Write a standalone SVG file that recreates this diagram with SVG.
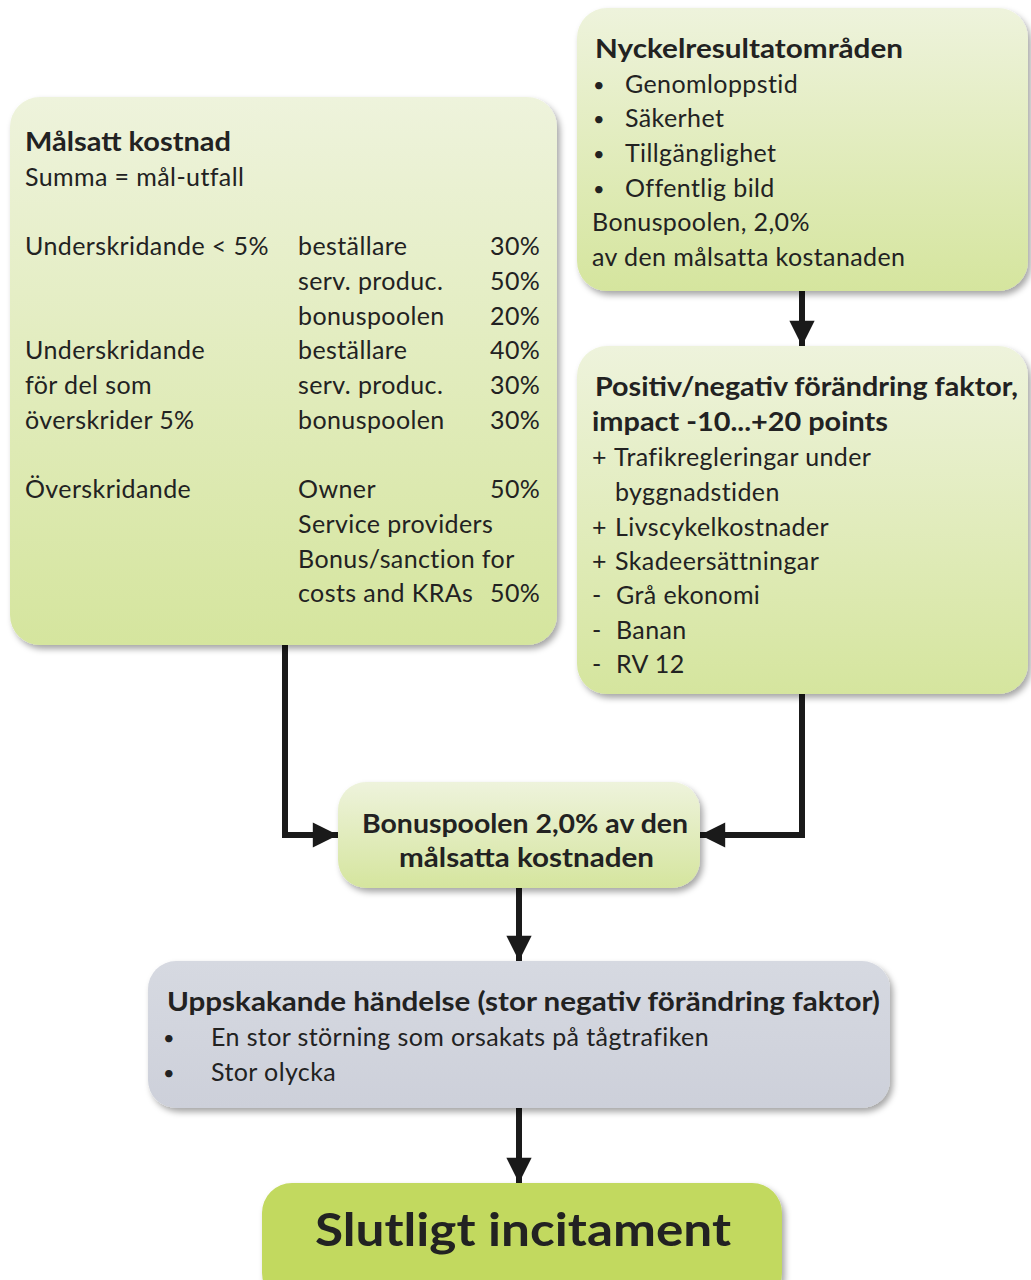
<svg xmlns="http://www.w3.org/2000/svg" width="1031" height="1280" viewBox="0 0 1031 1280">
<defs>
<linearGradient id="gg" x1="0" y1="0" x2="0" y2="1">
<stop offset="0" stop-color="#eef3dc"/>
<stop offset="1" stop-color="#d5e59e"/>
</linearGradient>
<linearGradient id="gr" x1="0" y1="0" x2="0" y2="1">
<stop offset="0" stop-color="#d6d9e1"/>
<stop offset="1" stop-color="#cdd0da"/>
</linearGradient>
<filter id="sh" x="-10%" y="-10%" width="130%" height="130%">
<feDropShadow dx="3" dy="4" stdDeviation="3" flood-color="#000" flood-opacity="0.35"/>
</filter>
<marker id="ah" viewBox="0 0 10 10" refX="10" refY="5" markerWidth="4.6" markerHeight="4.2" orient="auto" markerUnits="strokeWidth">
<path d="M0,0 L10,5 L0,10 Z" fill="#1a1a1a"/>
</marker>
</defs>
<style>
text{font-family:"Lato","Open Sans","Liberation Sans",sans-serif;fill:#222;font-size:25px;letter-spacing:0.4px}
.b{font-weight:bold;font-size:26px;letter-spacing:0}
.box{fill:url(#gg);filter:url(#sh)}
.c{fill:none;stroke:#1a1a1a;stroke-width:6}
.d{font-size:20px}
</style>
<rect width="1031" height="1280" fill="#fff"/>
<g id="connectors">
<path class="c" d="M285,645 V835 H338" marker-end="url(#ah)"/>
<path class="c" d="M802,694 V835 H700" marker-end="url(#ah)"/>
<path class="c" d="M802,291 V346" marker-end="url(#ah)"/>
<path class="c" d="M519,888 V961" marker-end="url(#ah)"/>
<path class="c" d="M519,1108 V1183" marker-end="url(#ah)"/>
</g>
<g id="malsatt">
<rect class="box" x="10" y="97" width="547" height="548" rx="30"/>
<text class="b" x="25" y="151" textLength="206" lengthAdjust="spacingAndGlyphs">Målsatt kostnad</text>
<text x="25" y="186">Summa = mål-utfall</text>
<text x="25" y="255">Underskridande &lt; 5%</text>
<text x="298" y="255">beställare</text><text x="490" y="255">30%</text>
<text x="298" y="290">serv. produc.</text><text x="490" y="290">50%</text>
<text x="298" y="325">bonuspoolen</text><text x="490" y="325">20%</text>
<text x="25" y="359">Underskridande</text>
<text x="298" y="359">beställare</text><text x="490" y="359">40%</text>
<text x="25" y="394">för del som</text>
<text x="298" y="394">serv. produc.</text><text x="490" y="394">30%</text>
<text x="25" y="429">överskrider 5%</text>
<text x="298" y="429">bonuspoolen</text><text x="490" y="429">30%</text>
<text x="25" y="498">Överskridande</text>
<text x="298" y="498">Owner</text><text x="490" y="498">50%</text>
<text x="298" y="533">Service providers</text>
<text x="298" y="568">Bonus/sanction for</text>
<text x="298" y="602">costs and KRAs</text><text x="490" y="602">50%</text>
</g>
<g id="nyckel">
<rect class="box" x="577" y="8" width="451" height="283" rx="30"/>
<text class="b" x="595" y="58" textLength="308" lengthAdjust="spacingAndGlyphs">Nyckelresultatområden</text>
<text class="d" x="593" y="92">•</text><text x="625" y="93">Genomloppstid</text>
<text class="d" x="593" y="126">•</text><text x="625" y="127">Säkerhet</text>
<text class="d" x="593" y="161">•</text><text x="625" y="162">Tillgänglighet</text>
<text class="d" x="593" y="196">•</text><text x="625" y="197">Offentlig bild</text>
<text x="592" y="231">Bonuspoolen, 2,0%</text>
<text x="592" y="266">av den målsatta kostanaden</text>
</g>
<g id="positiv">
<rect class="box" x="577" y="346" width="451" height="348" rx="30"/>
<text class="b" x="595" y="396" textLength="423" lengthAdjust="spacingAndGlyphs">Positiv/negativ förändring faktor,</text>
<text class="b" x="592" y="431" textLength="296" lengthAdjust="spacingAndGlyphs">impact -10...+20 points</text>
<text x="592" y="466">+</text><text x="614" y="466">Trafikregleringar under</text>
<text x="615" y="501">byggnadstiden</text>
<text x="592" y="536">+</text><text x="615" y="536">Livscykelkostnader</text>
<text x="592" y="570">+</text><text x="615" y="570">Skadeersättningar</text>
<text x="592" y="604">-</text><text x="616" y="604">Grå ekonomi</text>
<text x="592" y="639">-</text><text x="616" y="639">Banan</text>
<text x="592" y="673">-</text><text x="616" y="673">RV 12</text>
</g>
<g id="bonuspoolen">
<rect class="box" x="338" y="782" width="362" height="106" rx="28"/>
<text class="b" x="362" y="833" textLength="326" lengthAdjust="spacingAndGlyphs">Bonuspoolen 2,0% av den</text>
<text class="b" x="399" y="867" textLength="255" lengthAdjust="spacingAndGlyphs">målsatta kostnaden</text>
</g>
<g id="uppskakande">
<rect x="148" y="961" width="742" height="147" rx="28" fill="url(#gr)" filter="url(#sh)"/>
<text class="b" x="167" y="1011" textLength="713" lengthAdjust="spacingAndGlyphs">Uppskakande händelse (stor negativ förändring faktor)</text>
<text class="d" x="163" y="1045">•</text><text x="211" y="1046">En stor störning som orsakats på tågtrafiken</text>
<text class="d" x="163" y="1080">•</text><text x="211" y="1081">Stor olycka</text>
</g>
<g id="slutligt">
<rect x="262" y="1183" width="520" height="120" rx="30" fill="#c2d95f" filter="url(#sh)"/>
<text class="b" x="315" y="1246" textLength="416" lengthAdjust="spacingAndGlyphs" style="font-size:46px">Slutligt incitament</text>
</g>
</svg>
